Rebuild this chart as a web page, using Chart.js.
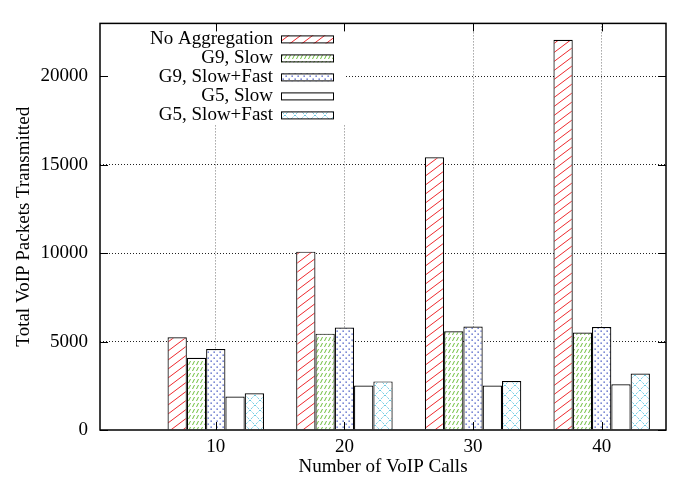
<!DOCTYPE html>
<html>
<head>
<meta charset="utf-8">
<script src="https://cdn.jsdelivr.net/npm/chart.js@4"></script>
<style>
    body { margin: 0; background: #fff; }
    #chart { display: block; }
</style>
</head>
<body>
<canvas id="chart" width="677" height="479"></canvas>
<script>
const calls = [10, 20, 30, 40];
const noAggregation = [5250, 10090, 15430, 22070];
const g9Slow = [4090, 5450, 5580, 5510];
const g9SlowFast = [4580, 5800, 5850, 5830];
const g5Slow = [1890, 2520, 2520, 2590];
const g5SlowFast = [2080, 2750, 2770, 3190];
const seriesNames = ['No Aggregation', 'G9, Slow', 'G9, Slow+Fast', 'G5, Slow', 'G5, Slow+Fast'];
const xTicks = [10, 20, 30, 40];
const yTicks = [0, 5000, 10000, 15000, 20000];

const FONT = "'Liberation Serif', 'Times New Roman', serif";

function makePattern(kind) {
    const c = document.createElement('canvas');
    const sizes = { red: [12, 9], green: [4, 6], blue: [6, 6], white: [4, 4], cyan: [10, 10] };
    const [w, h] = sizes[kind];
    c.width = w;
    c.height = h;
    const g = c.getContext('2d');
    g.fillStyle = '#fff';
    g.fillRect(0, 0, w, h);
    g.lineWidth = 1;
    if (kind === 'red') {
        g.strokeStyle = 'rgb(238,40,45)';
        g.beginPath();
        g.moveTo(-w, 2 * h); g.lineTo(2 * w, -h);
        g.moveTo(-2 * w, 2 * h); g.lineTo(w, -h);
        g.moveTo(0, 2 * h); g.lineTo(3 * w, -h);
        g.stroke();
    } else if (kind === 'green') {
        g.strokeStyle = 'rgb(110,190,60)';
        g.beginPath();
        g.moveTo(0.5, 5); g.lineTo(2.5, 1);
        g.stroke();
    } else if (kind === 'blue') {
        g.fillStyle = 'rgb(55,75,190)';
        g.fillRect(0.5, 0.5, 1.3, 1.3);
        g.fillRect(3.5, 3.5, 1.3, 1.3);
    } else if (kind === 'cyan') {
        g.strokeStyle = 'rgb(100,200,225)';
        g.setLineDash([2, 1.5]);
        g.beginPath();
        g.moveTo(0, 0); g.lineTo(w, h);
        g.moveTo(w, 0); g.lineTo(0, h);
        g.stroke();
    }
    return g.createPattern(c, 'repeat');
}

const fills = ['red', 'green', 'blue', 'white', 'cyan'].map(makePattern);
const values = [noAggregation, g9Slow, g9SlowFast, g5Slow, g5SlowFast];

const datasets = values.map((vals, i) => ({
    label: seriesNames[i],
    data: calls.map((x, j) => ({ x: x, y: vals[j] })),
    backgroundColor: fills[i],
    borderColor: '#000',
    borderWidth: 1.2,
    borderSkipped: 'bottom',
    categoryPercentage: 0.75,
    barPercentage: 1
}));

// gnuplot style key: opaque box with right aligned labels and sample boxes
const keyPlugin = {
    id: 'key',
    afterDatasetsDraw(chart) {
        const ctx = chart.ctx;
        const area = chart.chartArea;
        ctx.save();
        ctx.fillStyle = '#fff';
        ctx.fillRect(area.left + 1, area.top + 1, 245, 100);
        ctx.font = '19px ' + FONT;
        ctx.textAlign = 'right';
        ctx.textBaseline = 'middle';
        chart.data.datasets.forEach((ds, i) => {
            const y = area.top + 16 + i * 19;
            ctx.fillStyle = '#000';
            ctx.fillText(ds.label, area.left + 173, y);
            ctx.fillStyle = ds.backgroundColor;
            ctx.fillRect(area.left + 181, y - 4, 53, 8);
            ctx.strokeStyle = '#000';
            ctx.lineWidth = 1;
            ctx.strokeRect(area.left + 181.5, y - 3.5, 52, 7);
        });
        ctx.restore();
    },
    afterDraw(chart) {
        const ctx = chart.ctx;
        const area = chart.chartArea;
        const xs = chart.scales.x;
        const ys = chart.scales.y;
        ctx.save();
        ctx.strokeStyle = '#000';
        ctx.lineWidth = 1;
        ctx.beginPath();
        yTicks.forEach(v => {
            const y = Math.round(ys.getPixelForValue(v)) + 0.5;
            ctx.moveTo(area.left, y); ctx.lineTo(area.left + 8, y);
            ctx.moveTo(area.right, y); ctx.lineTo(area.right - 8, y);
        });
        xTicks.forEach(v => {
            const x = Math.round(xs.getPixelForValue(v)) + 0.5;
            ctx.moveTo(x, area.bottom); ctx.lineTo(x, area.bottom - 8);
            ctx.moveTo(x, area.top); ctx.lineTo(x, area.top + 8);
        });
        ctx.stroke();
        ctx.lineWidth = 1.5;
        ctx.strokeRect(area.left, area.top, area.right - area.left, area.bottom - area.top);
        ctx.restore();
    }
};

new Chart(document.getElementById('chart'), {
    type: 'bar',
    data: { datasets: datasets },
    options: {
        responsive: false,
        animation: false,
        layout: { padding: { top: 7, right: 11, left: 0, bottom: 0 } },
        plugins: {
            legend: { display: false },
            tooltip: { enabled: false }
        },
        scales: {
            x: {
                type: 'linear',
                min: 1,
                max: 45,
                offset: false,
                afterBuildTicks: scale => { scale.ticks = xTicks.map(v => ({ value: v })); },
                afterFit: scale => { scale.height = 49; },
                border: { display: false, dash: [1, 2] },
                grid: {
                    offset: false,
                    drawTicks: false,
                    color: '#777',
                    lineWidth: 1
                },
                ticks: {
                    padding: 6,
                    color: '#000',
                    font: { family: FONT, size: 19 },
                    callback: v => String(v)
                },
                title: {
                    display: true,
                    text: 'Number of VoIP Calls',
                    color: '#000',
                    padding: { top: 0, bottom: 1 },
                    font: { family: FONT, size: 19 }
                }
            },
            y: {
                min: 0,
                max: 23000,
                afterBuildTicks: scale => { scale.ticks = yTicks.map(v => ({ value: v })); },
                afterFit: scale => { scale.width = 100; },
                border: { display: false, dash: [1, 2] },
                grid: {
                    drawTicks: false,
                    color: ctx => ctx.tick && ctx.tick.value === 0 ? 'rgba(0,0,0,0)' : '#222',
                    lineWidth: 1
                },
                ticks: {
                    padding: 12,
                    color: '#000',
                    font: { family: FONT, size: 19 },
                    callback: v => String(v)
                },
                title: {
                    display: true,
                    text: 'Total VoIP Packets Transmitted',
                    color: '#000',
                    padding: { top: 13, bottom: 0 },
                    font: { family: FONT, size: 19 }
                }
            }
        }
    },
    plugins: [keyPlugin]
});
</script>
</body>
</html>
